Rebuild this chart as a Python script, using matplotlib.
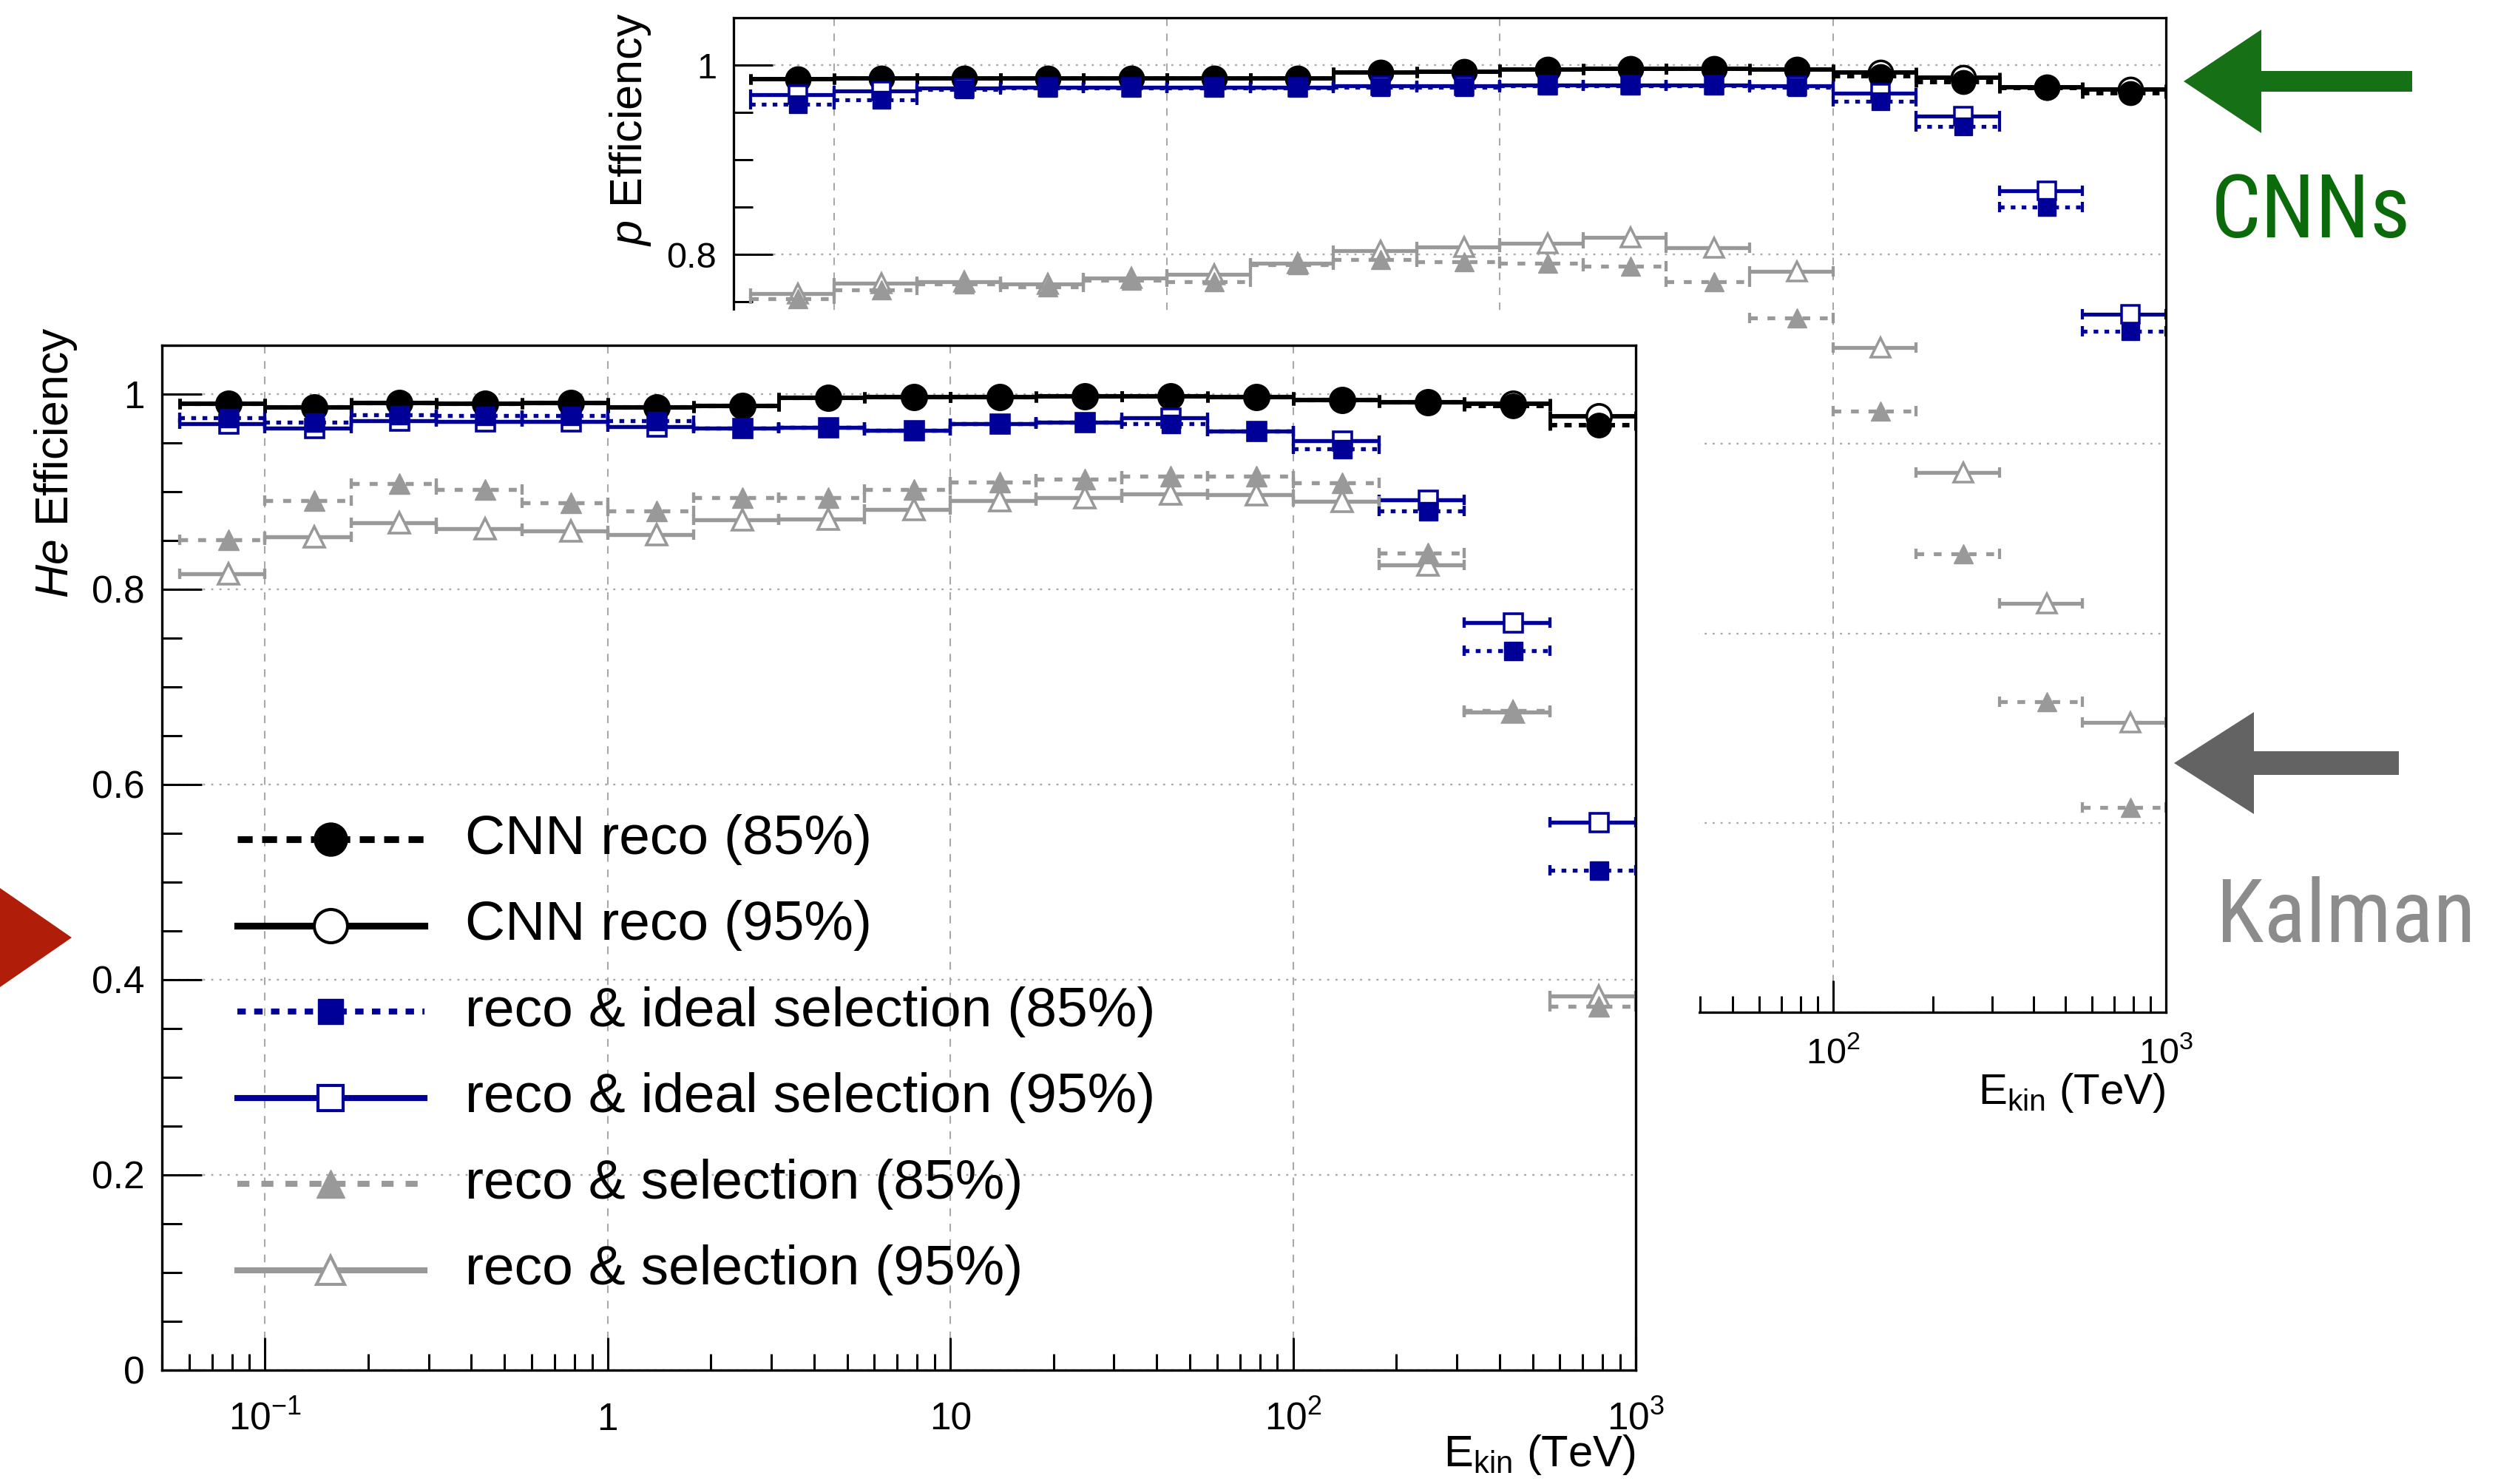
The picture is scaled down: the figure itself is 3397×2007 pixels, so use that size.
import numpy as np
import matplotlib
matplotlib.use("Agg")
import matplotlib.pyplot as plt
from matplotlib import font_manager
from matplotlib.patches import Rectangle, FancyArrow
from matplotlib.ticker import LogLocator, NullFormatter

plt.rcParams['font.family'] = ['Liberation Sans', 'DejaVu Sans']
plt.rcParams['mathtext.fontset'] = 'custom'
plt.rcParams['mathtext.rm'] = 'Liberation Sans'
plt.rcParams['mathtext.it'] = 'Liberation Sans:italic'
plt.rcParams['mathtext.bf'] = 'Liberation Sans:bold'

W, H, DPI = 3398, 2007, 100

# E_kin bin edges (TeV), 4 bins per decade
energy_edges = [0.0562, 0.1, 0.178, 0.316, 0.562, 1.0, 1.78, 3.16, 5.62,
                10.0, 17.8, 31.6, 56.2, 100.0, 178.0, 316.0, 562.0, 1000.0]

# proton (back panel)
p_cnn_85 = [0.985, 0.986, 0.986, 0.986, 0.986, 0.986, 0.986, 0.992, 0.993,
            0.995, 0.996, 0.996, 0.995, 0.988, 0.982, 0.976, 0.970]
p_cnn_95 = [0.985, 0.986, 0.986, 0.986, 0.986, 0.986, 0.986, 0.992, 0.993,
            0.995, 0.996, 0.996, 0.995, 0.992, 0.987, 0.977, 0.974]
p_ideal_85 = [0.959, 0.963, 0.974, 0.976, 0.976, 0.976, 0.976, 0.977, 0.977,
              0.978, 0.978, 0.978, 0.977, 0.962, 0.935, 0.850, 0.719]
p_ideal_95 = [0.969, 0.973, 0.976, 0.977, 0.977, 0.977, 0.977, 0.978, 0.978,
              0.979, 0.979, 0.979, 0.978, 0.970, 0.946, 0.867, 0.737]
p_sel_85 = [0.753, 0.763, 0.769, 0.766, 0.773, 0.771, 0.789, 0.795, 0.792,
            0.791, 0.788, 0.771, 0.733, 0.635, 0.484, 0.328, 0.216]
p_sel_95 = [0.759, 0.770, 0.771, 0.769, 0.775, 0.779, 0.791, 0.804, 0.808,
            0.812, 0.818, 0.807, 0.782, 0.702, 0.570, 0.432, 0.306]

# helium (front panel)
he_cnn_85 = [0.990, 0.986, 0.991, 0.990, 0.991, 0.986, 0.988, 0.996, 0.997,
             0.997, 0.998, 0.998, 0.997, 0.994, 0.992, 0.988, 0.968]
he_cnn_95 = [0.990, 0.986, 0.991, 0.990, 0.991, 0.986, 0.988, 0.996, 0.997,
             0.997, 0.998, 0.998, 0.997, 0.994, 0.992, 0.990, 0.977]
he_ideal_85 = [0.976, 0.971, 0.979, 0.978, 0.978, 0.973, 0.965, 0.966, 0.963,
               0.970, 0.971, 0.970, 0.962, 0.944, 0.880, 0.737, 0.512]
he_ideal_95 = [0.970, 0.965, 0.973, 0.972, 0.972, 0.967, 0.965, 0.966, 0.963,
               0.970, 0.971, 0.976, 0.962, 0.952, 0.892, 0.766, 0.561]
he_sel_85 = [0.851, 0.891, 0.908, 0.902, 0.889, 0.880, 0.894, 0.894, 0.902,
             0.910, 0.913, 0.916, 0.916, 0.909, 0.837, 0.676, 0.373]
he_sel_95 = [0.816, 0.854, 0.868, 0.862, 0.860, 0.856, 0.871, 0.872, 0.882,
             0.891, 0.894, 0.898, 0.897, 0.890, 0.825, 0.674, 0.383]

series_labels = ['CNN reco (85%)', 'CNN reco (95%)',
                 'reco & ideal selection (85%)', 'reco & ideal selection (95%)',
                 'reco & selection (85%)', 'reco & selection (95%)']
y_ticks = [0, 0.2, 0.4, 0.6, 0.8, 1.0]
y_tick_labels = ['0', '0.2', '0.4', '0.6', '0.8', '1']
x_ticks = [0.1, 1, 10, 100, 1000]
x_tick_labels = [r'$\mathregular{10^{-1}}$', '1', '10',
                 r'$\mathregular{10^{2}}$', r'$\mathregular{10^{3}}$']
# the back panel only shows the labels not hidden by the front canvas
back_y_tick_labels = ['', '', '', '', '0.8', '1']
back_x_tick_labels = ['', '', '', r'$\mathregular{10^{2}}$', r'$\mathregular{10^{3}}$']

BLACK, BLUE, GREY = '#000000', '#000099', '#999999'
styles = [
    dict(c=BLACK, m='o', ms=24, fill=True, dash=(1.6, 1.6), leg_dash=(2.2, 1.4), lw=4.4),
    dict(c=BLACK, m='o', ms=24, fill=False, dash=None, leg_dash=None, lw=4.4),
    dict(c=BLUE, m='s', ms=18, fill=True, dash=(1.2, 1.6), leg_dash=(1.4, 1.4), lw=3.9),
    dict(c=BLUE, m='s', ms=18, fill=False, dash=None, leg_dash=None, lw=3.9),
    dict(c=GREY, m='^', ms=20, fill=True, dash=(2.0, 2.5), leg_dash=(2.0, 2.0), lw=3.9),
    dict(c=GREY, m='^', ms=20, fill=False, dash=None, leg_dash=None, lw=3.9),
]
draw_order = [1, 0, 3, 2, 5, 4]   # 95% drawn first, 85% on top


def draw_curves(ax, curves, s):
    lo = np.array(energy_edges[:-1])
    hi = np.array(energy_edges[1:])
    xc = 0.5 * (lo + hi)
    for k, i in enumerate(draw_order):
        st = styles[i]
        y = np.asarray(curves[i])
        z = 2 + 0.1 * k
        ls = (0, st['dash']) if st['dash'] else 'solid'
        ax.hlines(y, lo, hi, colors=st['c'], linestyles=[ls],
                  linewidth=st['lw'] * s, zorder=z)
        ax.plot(np.r_[lo, hi], np.r_[y, y], ls='none', marker='|', ms=10 * s,
                mew=st['lw'] * 0.8 * s, color=st['c'], zorder=z)
        ax.plot(xc, y, ls='none', marker=st['m'], ms=st['ms'] * s,
                mfc=st['c'] if st['fill'] else 'white', mec=st['c'],
                mew=(1.0 if st['fill'] else 2.6) * s, zorder=z + 0.05)


def frame(ax, s, xpad, xsize, ysize, xlabels, ylabels):
    ax.set_xscale('log')
    ax.set_xlim(0.05, 1000)
    ax.set_ylim(0, 1.05)
    ax.set_xticks(x_ticks)
    ax.set_xticklabels(xlabels)
    ax.xaxis.set_minor_locator(LogLocator(base=10, subs=np.arange(2, 10)))
    ax.xaxis.set_minor_formatter(NullFormatter())
    ax.set_yticks(y_ticks)
    ax.set_yticklabels(ylabels)
    ax.set_yticks(np.arange(0, 1.051, 0.05), minor=True)
    ax.tick_params(which='both', direction='in', top=False, right=False,
                   width=2.2 * s, color='black')
    ax.tick_params(axis='x', which='major', length=32 * s, labelsize=xsize, pad=xpad)
    ax.tick_params(axis='x', which='minor', length=16 * s)
    ax.tick_params(axis='y', which='major', length=39 * s, labelsize=ysize, pad=17 * s)
    ax.tick_params(axis='y', which='minor', length=19.5 * s)
    for lab in ax.get_xticklabels():
        lab.set_verticalalignment('baseline')
    for sp in ax.spines.values():
        sp.set_linewidth(2.4 * s)
    ax.grid(axis='x', which='major', color='#a8a8a8', lw=1.5 * s, ls=(0, (5, 5)))
    ax.grid(axis='y', which='major', color='#a8a8a8', lw=1.7 * s, ls=(0, (1.2, 3.5)))


fig = plt.figure(figsize=(W / DPI, H / DPI), dpi=DPI)

# back panel: protons
back = fig.add_axes([992 / W, 1 - 1369 / H, 1937 / W, 1345 / H])
back.set_zorder(1)
draw_curves(back, [p_cnn_85, p_cnn_95, p_ideal_85, p_ideal_95, p_sel_85, p_sel_95], 0.97)
frame(back, 0.97, 50, 35, 35, back_x_tick_labels, back_y_tick_labels)
back.text(-0.0718, 1.005, r'$\mathit{p}$ Efficiency', transform=back.transAxes,
          rotation=90, ha='center', va='top', fontsize=44)
back.text(1.0, -0.0922, r'E$_{\mathregular{kin}}$ (TeV)', transform=back.transAxes,
          ha='right', va='baseline', fontsize=42)

# white canvas of the front panel hiding the back one
fig.add_artist(Rectangle((0, 0), 2297 / W, 1 - 420 / H, transform=fig.transFigure,
                         facecolor='white', edgecolor='none', zorder=2))

# front panel: helium
front = fig.add_axes([219 / W, 1 - 1853 / H, 1993 / W, 1386 / H])
front.set_zorder(3)
draw_curves(front, [he_cnn_85, he_cnn_95, he_ideal_85, he_ideal_95, he_sel_85, he_sel_95], 1.0)
frame(front, 1.0, 58, 37, 37, x_tick_labels, y_tick_labels)
front.text(-0.0718, 1.018, r'$\mathit{He}$ Efficiency', transform=front.transAxes,
           rotation=90, ha='center', va='top', fontsize=45)
front.text(1.0, -0.0938, r'E$_{\mathregular{kin}}$ (TeV)', transform=front.transAxes,
           ha='right', va='baseline', fontsize=43)

# legend of the front panel
leg_top, leg_step = 0.518, 0.0841
for i, (lab, st) in enumerate(zip(series_labels, styles)):
    yy = leg_top - i * leg_step
    ls = (0, st['leg_dash']) if st['leg_dash'] else 'solid'
    front.plot([0.0512, 0.178], [yy, yy], transform=front.transAxes, color=st['c'],
               lw=st['lw'] * 1.5, ls=ls, zorder=5)
    front.plot([0.1145], [yy], transform=front.transAxes, ls='none', marker=st['m'],
               ms=st['ms'] * 1.35, mfc=st['c'] if st['fill'] else 'white', mec=st['c'],
               mew=1.0 if st['fill'] else 3.0, zorder=6)
    front.text(0.2057, yy, lab, transform=front.transAxes, fontsize=54,
               ha='left', va='center', zorder=6)

# slide annotations (arrows and labels), in pixel coordinates
ov = fig.add_axes([0, 0, 1, 1])
ov.set_zorder(4)
ov.set_xlim(0, W)
ov.set_ylim(H, 0)
ov.axis('off')
ov.patch.set_alpha(0)

available = {f.name for f in font_manager.fontManager.ttflist}
narrow = None
for cand in ['Roboto Condensed', 'Liberation Sans Narrow', 'Open Sans Condensed']:
    if cand in available:
        narrow = cand
        break
if narrow:
    note_family, cnn_size, kal_size = [narrow, 'DejaVu Sans'], 86, 85
else:
    note_family, cnn_size, kal_size = ['Roboto', 'DejaVu Sans'], 78, 72

ov.add_patch(FancyArrow(3262, 110, -(3262 - 2953), 0, width=28, head_width=140,
                        head_length=105, length_includes_head=True,
                        color='#167016', lw=0))
ov.add_patch(FancyArrow(3244, 1032, -(3244 - 2940), 0, width=32, head_width=138,
                        head_length=108, length_includes_head=True,
                        color='#636363', lw=0))
ov.add_patch(FancyArrow(-130, 1268, 130 + 97, 0, width=34, head_width=152,
                        head_length=110, length_includes_head=True,
                        color='#b01e0a', lw=0))
ov.text(2990, 321, 'CNNs', color='#0b6b0b', fontsize=cnn_size, family=note_family,
        ha='left', va='baseline')
ov.text(2997, 1274, 'Kalman', color='#8c8c8c', fontsize=kal_size, family=note_family,
        ha='left', va='baseline')

fig.savefig('out.png', dpi=DPI)
